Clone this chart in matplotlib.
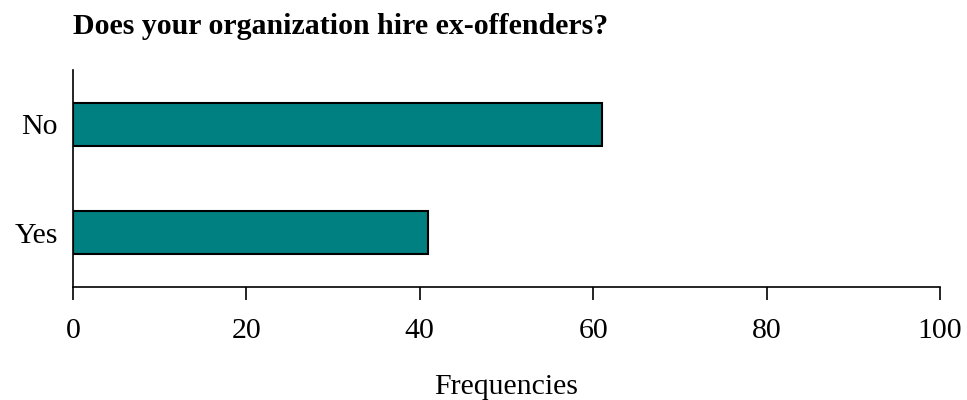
import matplotlib
matplotlib.use("Agg")
import matplotlib.pyplot as plt

# Survey responses
answers = ["Yes", "No"]
counts = [41, 61]
x_ticks = [0, 20, 40, 60, 80, 100]

plt.rcParams["font.family"] = ["Liberation Serif", "DejaVu Serif"]

fig = plt.figure(figsize=(9.67, 4.0), dpi=100)
ax = fig.add_axes([73 / 967, 113 / 400, 867 / 967, 217 / 400])

ax.barh(range(len(answers)), counts, height=0.4, color="#008080",
        edgecolor="black", linewidth=1.5)

ax.set_xlim(0, 100)
ax.set_ylim(-0.5, 1.5)
ax.set_xticks(x_ticks)
ax.set_yticks(range(len(answers)))
ax.set_yticklabels(answers)

for side in ["top", "right"]:
    ax.spines[side].set_visible(False)
for side in ["left", "bottom"]:
    ax.spines[side].set_linewidth(1.2)

ax.tick_params(axis="x", direction="out", length=9, width=1.2, pad=13, labelsize=21.5)
ax.tick_params(axis="y", length=0, pad=11, labelsize=21.5)

ax.set_xlabel("Frequencies", fontsize=21.5, labelpad=22)
fig.text(73 / 967, 1 - 34 / 400, "Does your organization hire ex-offenders?",
         fontsize=21.5, fontweight="bold", ha="left", va="baseline")

fig.savefig("out.png", dpi=100)
